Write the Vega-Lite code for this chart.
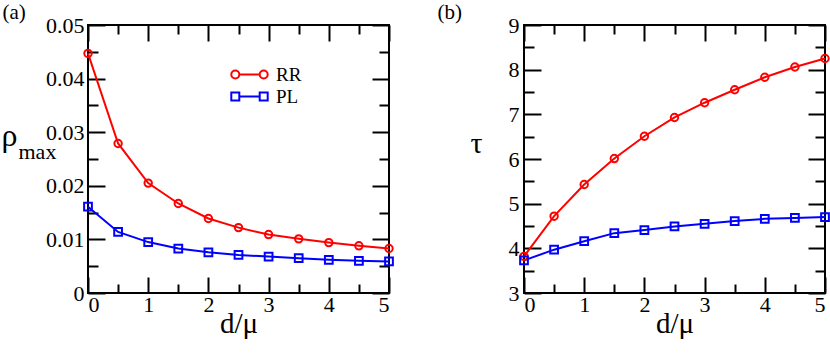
{
  "$schema": "https://vega.github.io/schema/vega-lite/v6.json",
  "background": "white",
  "padding": {"left": 0, "top": 0, "right": 0, "bottom": 0},
  "bounds": "flush",
  "spacing": 135,
  "config": {
    "view": {"stroke": "black", "strokeWidth": 2},
    "font": "Liberation Serif"
  },
  "datasets": {
    "a": [
      {"d": 0, "s": "RR", "v": 0.0447}, {"d": 0.5, "s": "RR", "v": 0.0279}, {"d": 1, "s": "RR", "v": 0.0205},
      {"d": 1.5, "s": "RR", "v": 0.0167}, {"d": 2, "s": "RR", "v": 0.0139}, {"d": 2.5, "s": "RR", "v": 0.0122},
      {"d": 3, "s": "RR", "v": 0.0109}, {"d": 3.5, "s": "RR", "v": 0.0101}, {"d": 4, "s": "RR", "v": 0.0094},
      {"d": 4.5, "s": "RR", "v": 0.0088}, {"d": 5, "s": "RR", "v": 0.0083},
      {"d": 0, "s": "PL", "v": 0.0161}, {"d": 0.5, "s": "PL", "v": 0.0114}, {"d": 1, "s": "PL", "v": 0.0095},
      {"d": 1.5, "s": "PL", "v": 0.0083}, {"d": 2, "s": "PL", "v": 0.0076}, {"d": 2.5, "s": "PL", "v": 0.0071},
      {"d": 3, "s": "PL", "v": 0.0068}, {"d": 3.5, "s": "PL", "v": 0.0065}, {"d": 4, "s": "PL", "v": 0.0062},
      {"d": 4.5, "s": "PL", "v": 0.0060}, {"d": 5, "s": "PL", "v": 0.0059}
    ],
    "b": [
      {"d": 0, "s": "RR", "v": 3.82}, {"d": 0.5, "s": "RR", "v": 4.72}, {"d": 1, "s": "RR", "v": 5.43},
      {"d": 1.5, "s": "RR", "v": 6.01}, {"d": 2, "s": "RR", "v": 6.51}, {"d": 2.5, "s": "RR", "v": 6.93},
      {"d": 3, "s": "RR", "v": 7.26}, {"d": 3.5, "s": "RR", "v": 7.55}, {"d": 4, "s": "RR", "v": 7.83},
      {"d": 4.5, "s": "RR", "v": 8.06}, {"d": 5, "s": "RR", "v": 8.25},
      {"d": 0, "s": "PL", "v": 3.73}, {"d": 0.5, "s": "PL", "v": 3.97}, {"d": 1, "s": "PL", "v": 4.16},
      {"d": 1.5, "s": "PL", "v": 4.34}, {"d": 2, "s": "PL", "v": 4.41}, {"d": 2.5, "s": "PL", "v": 4.49},
      {"d": 3, "s": "PL", "v": 4.55}, {"d": 3.5, "s": "PL", "v": 4.61}, {"d": 4, "s": "PL", "v": 4.66},
      {"d": 4.5, "s": "PL", "v": 4.68}, {"d": 5, "s": "PL", "v": 4.70}
    ]
  },
  "resolve": {"scale": {"color": "independent", "shape": "independent"}},
  "hconcat": [
    {
      "width": 301, "height": 268,
      "data": {"name": "a"},
      "resolve": {"axis": {"x": "independent", "y": "independent"}},
      "layer": [
        {
          "transform": [{"filter": "datum.s === 'RR'"}],
          "mark": {"type": "line", "color": "#ff0000", "strokeWidth": 2},
          "encoding": {
            "x": {"field": "d", "type": "quantitative", "scale": {"domain": [0, 5], "nice": false, "zero": false},
              "axis": {"orient": "bottom", "values": [0, 1, 2, 3, 4, 5], "tickSize": -16, "tickColor": "black", "tickWidth": 2, "domain": false, "grid": false,
                "labelPadding": 17, "format": "d", "labelFont": "Liberation Serif", "labelFontSize": 22, "labelColor": "black",
                "title": "d/μ", "titleFont": "Liberation Serif", "titleFontWeight": "normal", "titleColor": "black", "titleFontSize": 29,
                "titleX": 150.5, "titleY": 39, "titleAlign": "center", "titleBaseline": "alphabetic", "titleAngle": 0}},
            "y": {"field": "v", "type": "quantitative", "scale": {"domain": [0, 0.05], "nice": false},
              "axis": {"orient": "left", "values": [0, 0.01, 0.02, 0.03, 0.04, 0.05], "tickSize": -17, "tickColor": "black", "tickWidth": 2, "domain": false, "grid": false,
                "labelPadding": 21, "format": ".2~f", "labelFont": "Liberation Serif", "labelFontSize": 22, "labelColor": "black",
                "title": "ρ", "titleFont": "Liberation Serif", "titleFontWeight": "normal", "titleColor": "black", "titleFontSize": 32,
                "titleX": -87, "titleY": 120, "titleAlign": "left", "titleBaseline": "alphabetic", "titleAngle": 0}}
          }
        },
        {
          "transform": [{"filter": "datum.s === 'PL'"}],
          "mark": {"type": "line", "color": "#0000ff", "strokeWidth": 2},
          "encoding": {
            "x": {"field": "d", "type": "quantitative",
              "axis": {"orient": "top", "values": [0, 1, 2, 3, 4, 5], "tickSize": -16, "tickColor": "black", "tickWidth": 2, "domain": false, "grid": false, "labels": false,
                "title": "(a)", "titleFont": "Liberation Serif", "titleFontWeight": "normal", "titleColor": "black", "titleFontSize": 21,
                "titleX": -86, "titleY": -7, "titleAlign": "left", "titleBaseline": "alphabetic", "titleAngle": 0}},
            "y": {"field": "v", "type": "quantitative",
              "axis": {"orient": "right", "values": [0, 0.01, 0.02, 0.03, 0.04, 0.05], "tickSize": -17, "tickColor": "black", "tickWidth": 2, "domain": false, "grid": false, "labels": false, "title": null}}
          }
        },
        {
          "transform": [{"filter": "datum.s === 'RR'"}],
          "mark": {"type": "point", "shape": "circle", "color": "#ff0000", "filled": false, "size": 55, "strokeWidth": 2, "opacity": 1},
          "encoding": {
            "x": {"field": "d", "type": "quantitative",
              "axis": {"orient": "bottom", "values": [0.5, 1.5, 2.5, 3.5, 4.5], "tickSize": -9, "tickColor": "black", "tickWidth": 2, "domain": false, "grid": false, "labels": false, "title": null}},
            "y": {"field": "v", "type": "quantitative",
              "axis": {"orient": "left", "values": [0.005, 0.015, 0.025, 0.035, 0.045], "tickSize": -10, "tickColor": "black", "tickWidth": 2, "domain": false, "grid": false, "labels": false,
                "title": "max", "titleFont": "Liberation Serif", "titleFontWeight": "normal", "titleColor": "black", "titleFontSize": 22,
                "titleX": -70, "titleY": 133, "titleAlign": "left", "titleBaseline": "alphabetic", "titleAngle": 0}}
          }
        },
        {
          "transform": [{"filter": "datum.s === 'PL'"}],
          "mark": {"type": "point", "shape": "square", "color": "#0000ff", "filled": false, "size": 60, "strokeWidth": 2, "opacity": 1},
          "encoding": {
            "x": {"field": "d", "type": "quantitative",
              "axis": {"orient": "top", "values": [0.5, 1.5, 2.5, 3.5, 4.5], "tickSize": -9, "tickColor": "black", "tickWidth": 2, "domain": false, "grid": false, "labels": false, "title": null}},
            "y": {"field": "v", "type": "quantitative",
              "axis": {"orient": "right", "values": [0.005, 0.015, 0.025, 0.035, 0.045], "tickSize": -10, "tickColor": "black", "tickWidth": 2, "domain": false, "grid": false, "labels": false, "title": null}}
          }
        },
        {
          "transform": [{"filter": "false"}],
          "mark": {"type": "point", "filled": false, "strokeWidth": 2, "opacity": 1},
          "encoding": {
            "x": {"field": "d", "type": "quantitative", "axis": null},
            "y": {"field": "v", "type": "quantitative", "axis": null},
            "color": {"field": "s", "type": "nominal", "scale": {"domain": ["RR", "PL"], "range": ["#ff0000", "#0000ff"]},
              "legend": {"orient": "none", "legendX": 152, "legendY": 40, "title": null, "padding": 0, "symbolSize": 256, "symbolStrokeWidth": 2, "labelOffset": 17, "rowPadding": 2, "labelFont": "Liberation Serif", "labelFontSize": 19, "labelColor": "black"}},
            "shape": {"field": "s", "type": "nominal", "scale": {"domain": ["RR", "PL"],
              "range": ["M-2.275,0A0.5,0.5,0,1,1,-1.275,0A0.5,0.5,0,1,1,-2.275,0ZM-1.275,0L1.275,0M1.275,0A0.5,0.5,0,1,1,2.275,0A0.5,0.5,0,1,1,1.275,0Z",
                        "M-2.275,-0.5H-1.275V0.5H-2.275ZM-1.275,0H1.275M1.275,-0.5H2.275V0.5H1.275Z"]},
              "legend": {"orient": "none", "legendX": 152, "legendY": 40, "title": null, "padding": 0, "symbolSize": 256, "symbolStrokeWidth": 2, "labelOffset": 17, "rowPadding": 2, "labelFont": "Liberation Serif", "labelFontSize": 19, "labelColor": "black"}}
          }
        }
      ]
    },
    {
      "width": 301, "height": 268,
      "data": {"name": "b"},
      "resolve": {"axis": {"x": "independent", "y": "independent"}},
      "layer": [
        {
          "transform": [{"filter": "datum.s === 'RR'"}],
          "mark": {"type": "line", "color": "#ff0000", "strokeWidth": 2},
          "encoding": {
            "x": {"field": "d", "type": "quantitative", "scale": {"domain": [0, 5], "nice": false, "zero": false},
              "axis": {"orient": "bottom", "values": [0, 1, 2, 3, 4, 5], "tickSize": -16, "tickColor": "black", "tickWidth": 2, "domain": false, "grid": false,
                "labelPadding": 17, "format": "d", "labelFont": "Liberation Serif", "labelFontSize": 22, "labelColor": "black",
                "title": "d/μ", "titleFont": "Liberation Serif", "titleFontWeight": "normal", "titleColor": "black", "titleFontSize": 29,
                "titleX": 150.5, "titleY": 39, "titleAlign": "center", "titleBaseline": "alphabetic", "titleAngle": 0}},
            "y": {"field": "v", "type": "quantitative", "scale": {"domain": [3, 9], "nice": false, "zero": false},
              "axis": {"orient": "left", "values": [3, 4, 5, 6, 7, 8, 9], "tickSize": -17, "tickColor": "black", "tickWidth": 2, "domain": false, "grid": false,
                "labelPadding": 22, "format": "d", "labelFont": "Liberation Serif", "labelFontSize": 22, "labelColor": "black",
                "title": "τ", "titleFont": "Liberation Serif", "titleFontWeight": "normal", "titleColor": "black", "titleFontSize": 30,
                "titleX": -54, "titleY": 127, "titleAlign": "left", "titleBaseline": "alphabetic", "titleAngle": 0}}
          }
        },
        {
          "transform": [{"filter": "datum.s === 'PL'"}],
          "mark": {"type": "line", "color": "#0000ff", "strokeWidth": 2},
          "encoding": {
            "x": {"field": "d", "type": "quantitative",
              "axis": {"orient": "top", "values": [0, 1, 2, 3, 4, 5], "tickSize": -16, "tickColor": "black", "tickWidth": 2, "domain": false, "grid": false, "labels": false,
                "title": "(b)", "titleFont": "Liberation Serif", "titleFontWeight": "normal", "titleColor": "black", "titleFontSize": 21,
                "titleX": -87, "titleY": -7, "titleAlign": "left", "titleBaseline": "alphabetic", "titleAngle": 0}},
            "y": {"field": "v", "type": "quantitative",
              "axis": {"orient": "right", "values": [3, 4, 5, 6, 7, 8, 9], "tickSize": -17, "tickColor": "black", "tickWidth": 2, "domain": false, "grid": false, "labels": false, "title": null}}
          }
        },
        {
          "transform": [{"filter": "datum.s === 'RR'"}],
          "mark": {"type": "point", "shape": "circle", "color": "#ff0000", "filled": false, "size": 55, "strokeWidth": 2, "opacity": 1},
          "encoding": {
            "x": {"field": "d", "type": "quantitative",
              "axis": {"orient": "bottom", "values": [0.5, 1.5, 2.5, 3.5, 4.5], "tickSize": -9, "tickColor": "black", "tickWidth": 2, "domain": false, "grid": false, "labels": false, "title": null}},
            "y": {"field": "v", "type": "quantitative",
              "axis": {"orient": "left", "values": [3.5, 4.5, 5.5, 6.5, 7.5, 8.5], "tickSize": -10, "tickColor": "black", "tickWidth": 2, "domain": false, "grid": false, "labels": false, "title": null}}
          }
        },
        {
          "transform": [{"filter": "datum.s === 'PL'"}],
          "mark": {"type": "point", "shape": "square", "color": "#0000ff", "filled": false, "size": 60, "strokeWidth": 2, "opacity": 1},
          "encoding": {
            "x": {"field": "d", "type": "quantitative",
              "axis": {"orient": "top", "values": [0.5, 1.5, 2.5, 3.5, 4.5], "tickSize": -9, "tickColor": "black", "tickWidth": 2, "domain": false, "grid": false, "labels": false, "title": null}},
            "y": {"field": "v", "type": "quantitative",
              "axis": {"orient": "right", "values": [3.5, 4.5, 5.5, 6.5, 7.5, 8.5], "tickSize": -10, "tickColor": "black", "tickWidth": 2, "domain": false, "grid": false, "labels": false, "title": null}}
          }
        }
      ]
    }
  ]
}
